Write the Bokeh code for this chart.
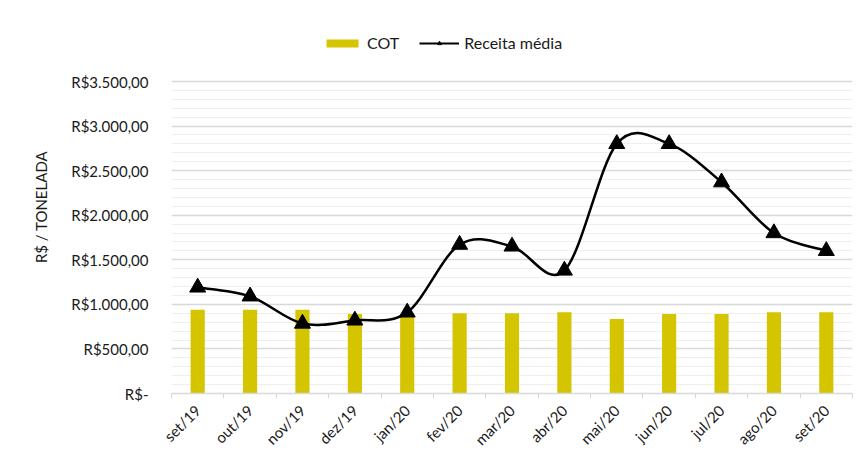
import math
from bokeh.plotting import figure
from bokeh.models import (ColumnDataSource, FixedTicker, Legend, LegendItem, Range1d)
from bokeh.embed import file_html
from bokeh.resources import INLINE

months = ["set/19", "out/19", "nov/19", "dez/19", "jan/20", "fev/20", "mar/20",
          "abr/20", "mai/20", "jun/20", "jul/20", "ago/20", "set/20"]
cot = [940, 940, 940, 893, 893, 900, 900, 911, 837, 893, 893, 911, 911]
receita = [1190, 1090, 785, 820, 910, 1670, 1650, 1380, 2800, 2800, 2370, 1800, 1600]
y_ticks = [0, 500, 1000, 1500, 2000, 2500, 3000, 3500]
y_tick_labels = ["R$-", "R$500,00", "R$1.000,00", "R$1.500,00", "R$2.000,00",
                 "R$2.500,00", "R$3.000,00", "R$3.500,00"]

FONT = "Lato"
YELLOW = "#d5c400"
TEXT = "#1a1a1a"

xs = list(range(len(months)))

# frame extends above the 3.500 gridline so the legend can sit inside it
FRAME_TOP, AXIS_TOP, AXIS_BOTTOM = 20, 81, 393
y_max = y_ticks[-1] * (AXIS_BOTTOM - FRAME_TOP) / (AXIS_BOTTOM - AXIS_TOP)

p = figure(width=864, height=468, x_range=(-0.5, len(months) - 0.5), y_range=Range1d(0, y_max),
           output_backend="svg", toolbar_location=None,
           min_border_left=171, min_border_right=12, min_border_top=FRAME_TOP,
           min_border_bottom=468 - AXIS_BOTTOM)
p.outline_line_color = None
p.background_fill_color = "white"

src = ColumnDataSource(dict(x=xs, cot=cot, rec=receita))
bars = p.vbar(x="x", top="cot", width=0.27, source=src, fill_color=YELLOW, line_color=None)

# Smoothed line (Excel-like Catmull-Rom bezier through the data points)
n = len(xs)
x0, y0, x1, y1, cx0, cy0, cx1, cy1 = [], [], [], [], [], [], [], []
for i in range(n - 1):
    ip = max(i - 1, 0)
    inx = min(i + 2, n - 1)
    x0.append(xs[i]); y0.append(receita[i])
    x1.append(xs[i + 1]); y1.append(receita[i + 1])
    cx0.append(xs[i] + (xs[i + 1] - xs[ip]) / 6)
    cy0.append(receita[i] + (receita[i + 1] - receita[ip]) / 6)
    cx1.append(xs[i + 1] - (xs[inx] - xs[i]) / 6)
    cy1.append(receita[i + 1] - (receita[inx] - receita[i]) / 6)
curve = p.bezier(x0=x0, y0=y0, x1=x1, y1=y1, cx0=cx0, cy0=cy0, cx1=cx1, cy1=cy1,
                 line_color="black", line_width=2.5)
pts = p.scatter(x="x", y="rec", source=src, marker="triangle", size=16,
                fill_color="black", line_color="black")
# legend proxy line
lproxy = p.line(x=[0, 1], y=[-100, -100], line_color="black", line_width=2)
lproxy_m = p.scatter(x=[0], y=[-100], marker="triangle", size=10, fill_color="black", line_color="black")

# Axes
p.xaxis.ticker = FixedTicker(ticks=xs, minor_ticks=[i - 0.5 for i in range(n + 1)])
p.xaxis.major_label_overrides = {i: m for i, m in enumerate(months)}
p.xaxis.major_label_orientation = math.pi / 4
p.xaxis.major_tick_line_color = None
p.xaxis.minor_tick_line_color = "#d9d9d9"
p.xaxis.minor_tick_out = 5
p.xaxis.minor_tick_in = 0
p.xaxis.axis_line_color = "#d9d9d9"
p.xaxis.axis_line_width = 1.5
p.xaxis.major_label_text_font = FONT
p.xaxis.major_label_text_font_size = "15px"
p.xaxis.major_label_text_color = TEXT
p.xaxis.major_label_standoff = 8

p.yaxis.ticker = FixedTicker(ticks=y_ticks, minor_ticks=list(range(0, 3501, 100)))
p.yaxis.major_label_overrides = {t: l for t, l in zip(y_ticks, y_tick_labels)}
p.yaxis.axis_line_color = None
p.yaxis.major_tick_line_color = None
p.yaxis.minor_tick_line_color = None
p.yaxis.major_label_standoff = 17
p.yaxis.major_label_text_font = FONT
p.yaxis.major_label_text_font_size = "15px"
p.yaxis.major_label_text_color = TEXT
p.yaxis.axis_label = "R$ / TONELADA"
p.yaxis.axis_label_text_font = FONT
p.yaxis.axis_label_text_font_size = "15px"
p.yaxis.axis_label_text_font_style = "normal"
p.yaxis.axis_label_text_color = TEXT
p.yaxis.axis_label_standoff = 18

p.xgrid.grid_line_color = None
p.ygrid.grid_line_color = "#d9d9d9"
p.ygrid.minor_grid_line_color = "#efefef"
p.ygrid.grid_line_width = 1.5

legend = Legend(items=[LegendItem(label="COT", renderers=[bars]),
                       LegendItem(label="Receita média", renderers=[lproxy, lproxy_m])],
                orientation="horizontal", location=(151, AXIS_BOTTOM - 52),
                border_line_color=None, background_fill_alpha=0,
                glyph_width=40, glyph_height=10, label_standoff=5, spacing=20,
                padding=0, margin=0,
                label_text_font=FONT, label_text_font_size="16px", label_text_color=TEXT)
p.add_layout(legend)

open("out.html", "w").write(file_html(p, INLINE))
